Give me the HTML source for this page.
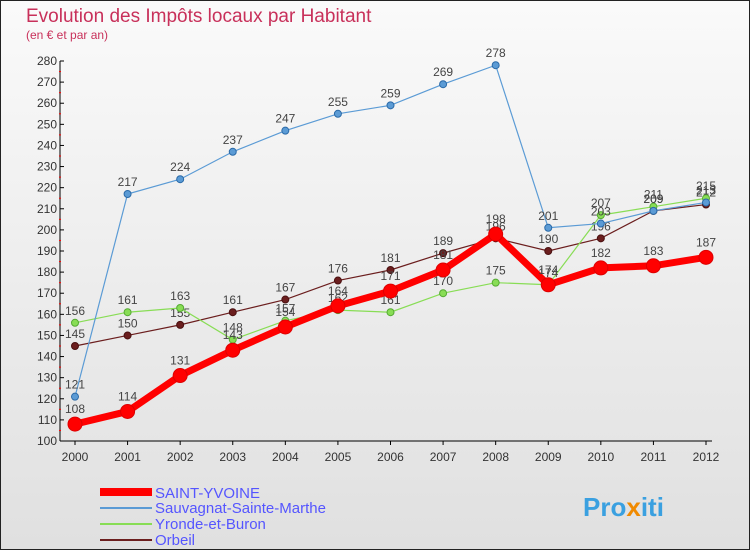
<!DOCTYPE html>
<html><head><meta charset="utf-8"><style>
body{margin:0;background:#fff}
svg{display:block;font-family:"Liberation Sans",sans-serif}
</style></head><body>
<svg id="c" width="750" height="550" viewBox="0 0 750 550">
<defs><linearGradient id="bg" x1="0" y1="0" x2="0" y2="1"><stop offset="0" stop-color="#fafafa"/><stop offset="1" stop-color="#e0e0e0"/></linearGradient></defs>
<rect x="0.5" y="0.5" width="749" height="549" fill="url(#bg)" stroke="#222"/>
<text x="26" y="22" font-size="19" fill="#c8305a">Evolution des Impôts locaux par Habitant</text>
<text x="26" y="39" font-size="12" fill="#c8305a">(en € et par an)</text>
<g id="axes"></g><g id="series"></g>
<g>
<rect x="100" y="488" width="52" height="8" fill="#f00"/>
<text x="155" y="498" font-size="15" fill="#5555ff">SAINT-YVOINE</text>
<line x1="100" y1="508" x2="152" y2="508" stroke="#5b9bd5" stroke-width="2"/>
<text x="155" y="513" font-size="15" fill="#5555ff">Sauvagnat-Sainte-Marthe</text>
<line x1="100" y1="524" x2="152" y2="524" stroke="#88dd55" stroke-width="2"/>
<text x="155" y="529" font-size="15" fill="#5555ff">Yronde-et-Buron</text>
<line x1="100" y1="540" x2="152" y2="540" stroke="#6b1e1e" stroke-width="2"/>
<text x="155" y="545" font-size="15" fill="#5555ff">Orbeil</text>
</g>
<text x="583" y="516" font-size="26" font-weight="bold" fill="#3aa0e0">Pro<tspan fill="#f08a00">x</tspan>iti</text>
</svg>
<script>
const years=[2000,2001,2002,2003,2004,2005,2006,2007,2008,2009,2010,2011,2012];
const yTicks=[100,110,120,130,140,150,160,170,180,190,200,210,220,230,240,250,260,270,280];
const saintYvoine=[108,114,131,143,154,164,171,181,198,174,182,183,187];
const sauvagnat=[121,217,224,237,247,255,259,269,278,201,203,209,213];
const yronde=[156,161,163,148,157,162,161,170,175,174,207,211,215];
const orbeil=[145,150,155,161,167,176,181,189,196,190,196,209,212];
const NS="http://www.w3.org/2000/svg";
const x=i=>75+i*(706-75)/12;
const y=v=>441-(v-100)*(441-61)/180;
function mk(t,a,p){const e=document.createElementNS(NS,t);for(const k in a)e.setAttribute(k,a[k]);p.appendChild(e);return e;}
const ax=document.getElementById('axes');
let l=mk('line',{x1:60,y1:y(280),x2:60,y2:441,stroke:'#000'},ax);


l=mk('line',{x1:60,y1:441,x2:712,y2:441,stroke:'#000'},ax);


yTicks.forEach(v=>{
 mk('line',{x1:60,y1:y(v),x2:64,y2:y(v),stroke:'#000'},ax);
 const t=mk('text',{x:57,y:y(v)+4,'font-size':12,'text-anchor':'end',fill:'#333'},ax);t.textContent=v;
 
 
 if(v<280)mk('line',{x1:59,y1:y(v+5),x2:61,y2:y(v+5),stroke:'#f00'},ax);
});
years.forEach((yr,i)=>{
 mk('line',{x1:x(i),y1:441,x2:x(i),y2:445,stroke:'#000'},ax);
 const t=mk('text',{x:x(i),y:461,'font-size':12,'text-anchor':'middle',fill:'#333'},ax);t.textContent=yr;
 
 
});
const sg=document.getElementById('series');
function series(vals,color,w,r,name,stroke){
 const g=mk('g',{},sg);
 
 
 const p=mk('polyline',{points:vals.map((v,i)=>x(i)+','+y(v)).join(' '),fill:'none',stroke:color,'stroke-width':w},g);
 
 
 vals.forEach((v,i)=>{
  const c=mk('circle',{cx:x(i),cy:y(v),r:r,fill:color,stroke:stroke,'stroke-width':1},g);
  
  
  const t=mk('text',{x:x(i),y:y(v)-8-(r>4?3:0),'font-size':12,'text-anchor':'middle',fill:'#444'},g);t.textContent=v;
  
  
 });
}
series(orbeil,'#6b1e1e',1.2,3.5,'orbeil-series','#4a1010');
series(yronde,'#88dd55',1.2,3.5,'yronde-series','#55aa33');
series(sauvagnat,'#5b9bd5',1.2,3.5,'sauvagnat-series','#2a6aa8');
series(saintYvoine,'#ff0000',7,7,'saint-yvoine-series','#dd0000');
</script>
</body></html>
